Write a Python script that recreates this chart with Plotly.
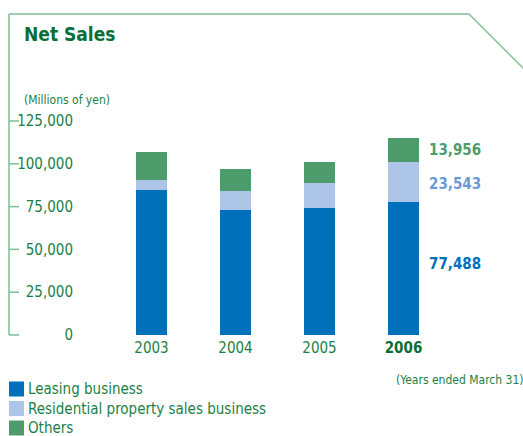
import plotly.graph_objects as go

# Fiscal years and net sales by segment (millions of yen)
years = ["2003", "2004", "2005", "2006"]
leasing = [84800, 73100, 74300, 77488]
residential = [5900, 11100, 14600, 23543]
others = [16400, 12900, 12300, 13956]

series_names = ["Leasing business", "Residential property sales business", "Others"]
bar_colors = ["#0070bb", "#adc5e7", "#4e9c6c"]
label_colors = ["#0070bb", "#6b9bd6", "#4e9c6c"]

y_ticks = [0, 25000, 50000, 75000, 100000, 125000]

W, H = 523, 436
L, R, T, B = 80, 53, 100, 101
PW, PH = W - L - R, H - T - B
Y_MAX = 137266

TEXT_GREEN = "#1b7f45"
DARK_GREEN = "#0b6e35"
FRAME = "#7dbf95"
FONT = "DejaVu Sans Condensed, Liberation Sans Narrow, sans-serif"


def px_x(px):
    return (px - L) / PW


def px_y(py):
    return (H - B - py) / PH


fig = go.Figure()
xs = list(range(len(years)))
for name, vals, col in zip(series_names, [leasing, residential, others], bar_colors):
    fig.add_trace(go.Bar(
        x=xs, y=vals, name=name, marker=dict(color=col, line=dict(width=0)),
        width=0.369, hoverinfo="skip", showlegend=False,
    ))

# Value labels beside the latest year's segments
base = 0
shifts = [5, -2, 0]
for vals, col, sh in zip([leasing, residential, others], label_colors, shifts):
    v = vals[-1]
    fig.add_annotation(
        x=3.28, y=base + v / 2, xref="x", yref="y", xanchor="left", yanchor="middle",
        text=f"<b>{v:,}</b>", showarrow=False, yshift=sh,
        font=dict(family=FONT, size=15, color=col),
    )
    base += v

shapes = []
# Frame: left rule, top rule and the slanted corner
frame_top = px_y(14)
shapes.append(dict(type="line", xref="paper", yref="paper",
                   x0=px_x(9), x1=px_x(9), y0=frame_top, y1=0,
                   line=dict(color=FRAME, width=1.5)))
shapes.append(dict(type="line", xref="paper", yref="paper",
                   x0=px_x(9), x1=px_x(469), y0=frame_top, y1=frame_top,
                   line=dict(color=FRAME, width=1.5)))
shapes.append(dict(type="line", xref="paper", yref="paper",
                   x0=px_x(469), x1=px_x(469 + 60), y0=frame_top, y1=px_y(14 + 60),
                   line=dict(color=FRAME, width=1.5)))
# Small tick marks on the left rule at each gridline value
for v in y_ticks:
    yp = v / Y_MAX
    shapes.append(dict(type="line", xref="paper", yref="paper",
                       x0=px_x(9), x1=px_x(19), y0=yp, y1=yp,
                       line=dict(color=FRAME, width=1.5)))

# Key: coloured squares with series names beneath the chart
for i, (name, col) in enumerate(zip(series_names, bar_colors)):
    cy = 389 + 19.5 * i
    shapes.append(dict(type="rect", xref="paper", yref="paper",
                       x0=px_x(9), x1=px_x(24), y0=px_y(cy - 7.5), y1=px_y(cy + 7.5),
                       fillcolor=col, line=dict(width=0)))
    fig.add_annotation(x=px_x(26), y=px_y(cy), xref="paper", yref="paper",
                       xanchor="left", yanchor="middle", showarrow=False,
                       text=name, font=dict(family=FONT, size=15, color=TEXT_GREEN))

fig.add_annotation(x=px_x(22), y=px_y(34), xref="paper", yref="paper",
                   xanchor="left", yanchor="middle", showarrow=False,
                   text="<b>Net Sales</b>",
                   font=dict(family=FONT, size=19, color=DARK_GREEN))
fig.add_annotation(x=px_x(22), y=px_y(100), xref="paper", yref="paper",
                   xanchor="left", yanchor="middle", showarrow=False,
                   text="(Millions of yen)",
                   font=dict(family=FONT, size=12, color=TEXT_GREEN))
fig.add_annotation(x=px_x(526), y=px_y(380), xref="paper", yref="paper",
                   xanchor="right", yanchor="middle", showarrow=False,
                   text="(Years ended March 31)",
                   font=dict(family=FONT, size=12, color=TEXT_GREEN))

ticktext = years[:-1] + [f"<b><span style='color:{DARK_GREEN}'>{years[-1]}</span></b>"]

fig.update_layout(
    width=W, height=H,
    margin=dict(l=L, r=R, t=T, b=B, pad=0, autoexpand=False),
    paper_bgcolor="white", plot_bgcolor="white",
    barmode="stack", bargap=0,
    shapes=shapes,
    showlegend=False,
    xaxis=dict(
        range=[-71.5 / 84, 3 + (470 - 403.5) / 84],
        tickmode="array", tickvals=xs, ticktext=ticktext,
        showgrid=False, zeroline=False, showline=False, ticks="",
        ticklabelstandoff=2,
        tickfont=dict(family=FONT, size=15, color=TEXT_GREEN),
    ),
    yaxis=dict(
        range=[0, Y_MAX],
        tickmode="array", tickvals=y_ticks,
        ticktext=[f"{v:,}" for v in y_ticks],
        showgrid=False, zeroline=False, showline=False, ticks="",
        ticklabelstandoff=6,
        tickfont=dict(family=FONT, size=15, color=TEXT_GREEN),
    ),
)

fig.write_html("out.html")
